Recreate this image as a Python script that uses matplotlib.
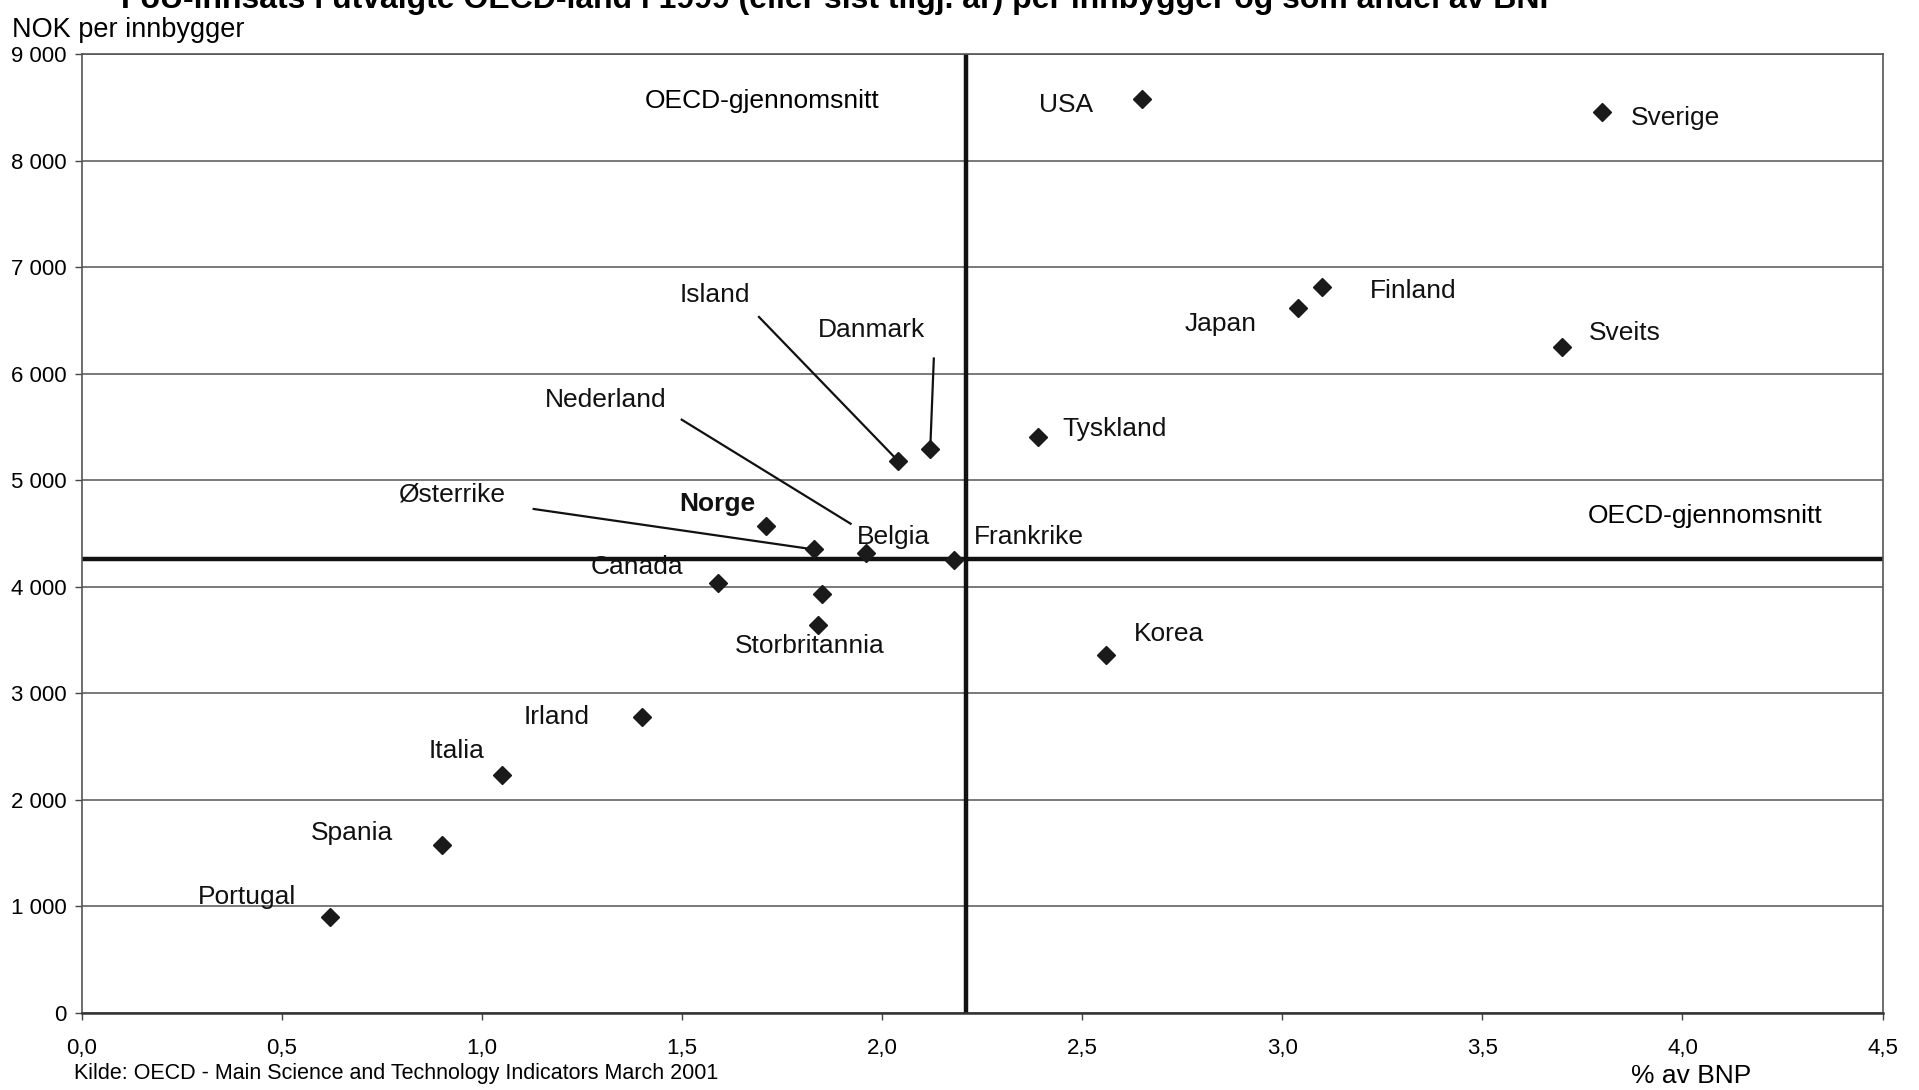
import matplotlib.pyplot as plt
from matplotlib.ticker import FuncFormatter, MultipleLocator

plt.rcParams['font.family'] = ['Liberation Sans', 'DejaVu Sans']

# FoU i % av BNP og NOK per innbygger
land = ['USA', 'Sverige', 'Finland', 'Japan', 'Sveits', 'Tyskland', 'Danmark',
        'Island', 'Norge', 'Østerrike', 'Belgia', 'Frankrike', 'Canada',
        'Nederland', 'Storbritannia', 'Korea', 'Irland', 'Italia', 'Spania',
        'Portugal']
pst_bnp = [2.65, 3.80, 3.10, 3.04, 3.70, 2.39, 2.12, 2.04, 1.71, 1.83, 1.96,
           2.18, 1.59, 1.85, 1.84, 2.56, 1.40, 1.05, 0.90, 0.62]
nok_innb = [8580, 8460, 6810, 6620, 6250, 5410, 5290, 5180, 4570, 4350, 4320,
            4250, 4040, 3930, 3640, 3360, 2780, 2230, 1580, 900]

oecd_pst = 2.21
oecd_nok = 4260

# plassering av etiketter (x, y, ha)
etiketter = {
    'USA': (2.46, 8518, 'center'), 'Sverige': (3.87, 8403, 'left'),
    'Finland': (3.22, 6773, 'left'), 'Japan': (2.845, 6463, 'center'),
    'Sveits': (3.766, 6383, 'left'), 'Tyskland': (2.45, 5476, 'left'),
    'Danmark': (1.973, 6406, 'center'), 'Island': (1.582, 6739, 'center'),
    'Norge': (1.588, 4776, 'center'), 'Østerrike': (0.924, 4867, 'center'),
    'Belgia': (1.936, 4466, 'left'), 'Frankrike': (2.23, 4466, 'left'),
    'Canada': (1.386, 4190, 'center'), 'Nederland': (1.309, 5751, 'center'),
    'Storbritannia': (1.82, 3444, 'center'), 'Korea': (2.628, 3559, 'left'),
    'Irland': (1.187, 2778, 'center'), 'Italia': (0.936, 2457, 'center'),
    'Spania': (0.676, 1688, 'center'), 'Portugal': (0.413, 1091, 'center'),
}
# streker fra etikett til punkt
streker = {'Island': (1.692, 6532), 'Danmark': (2.129, 6142),
           'Østerrike': (1.129, 4730)}
nederland_strek = ((1.499, 5568), (1.921, 4592))

fig = plt.figure(figsize=(19.19, 10.90), dpi=100)
ax = fig.add_axes([0.0427, 0.0706, 0.9383, 0.8799])

ax.set_xlim(0, 4.5)
ax.set_ylim(0, 9000)
ax.xaxis.set_major_locator(MultipleLocator(0.5))
ax.yaxis.set_major_locator(MultipleLocator(1000))
ax.xaxis.set_major_formatter(FuncFormatter(lambda v, p: f'{v:.1f}'.replace('.', ',')))
ax.yaxis.set_major_formatter(FuncFormatter(lambda v, p: f'{int(v):,}'.replace(',', ' ')))
ax.tick_params(labelsize=16, length=5, color='#444444', width=1)
ax.tick_params(axis='x', pad=13)
ax.tick_params(axis='y', pad=6)
ax.grid(axis='y', color='#555555', lw=1.1)
ax.set_axisbelow(True)
for s in ax.spines.values():
    s.set_color('#555555')
    s.set_linewidth(1.2)
ax.spines['bottom'].set_color('#333333')
ax.spines['bottom'].set_linewidth(1.8)

ax.axvline(oecd_pst, color='#111111', lw=3.2, zorder=2)
ax.axhline(oecd_nok, color='#111111', lw=3.2, zorder=2)

ax.plot(pst_bnp, nok_innb, 'D', color='#1a1a1a', ms=9, zorder=3)

for navn, x, y in zip(land, pst_bnp, nok_innb):
    tx, ty, ha = etiketter[navn]
    ax.text(tx, ty, navn, ha=ha, va='center', fontsize=19,
            fontweight='bold' if navn == 'Norge' else 'normal', color='#111111')
    if navn in streker:
        sx, sy = streker[navn]
        ax.plot([sx, x], [sy, y], color='#111111', lw=1.6, zorder=2)
(a, b), (c, d) = nederland_strek
ax.plot([a, c], [b, d], color='#111111', lw=1.6, zorder=2)

ax.text(1.70, 8560, 'OECD-gjennomsnitt', ha='center', va='center', fontsize=19)
ax.text(4.056, 4661, 'OECD-gjennomsnitt', ha='center', va='center', fontsize=19)

# tittelen er delvis skåret av øverst, som i originalen
fig.text(0.438, 0.993, 'FoU-innsats i utvalgte OECD-land i 1999 (eller sist tilgj. år) per innbygger og som andel av BNP',
         ha='center', va='baseline', fontsize=23, fontweight='bold')
fig.text(0.0063, 0.9725, 'NOK per innbygger', ha='left', va='center', fontsize=19.5)
fig.text(0.0385, 0.015, 'Kilde: OECD - Main Science and Technology Indicators March 2001',
         ha='left', va='center', fontsize=15.5)
fig.text(0.881, 0.0125, '% av BNP', ha='center', va='center', fontsize=19)

fig.savefig('out.png', dpi=100)
